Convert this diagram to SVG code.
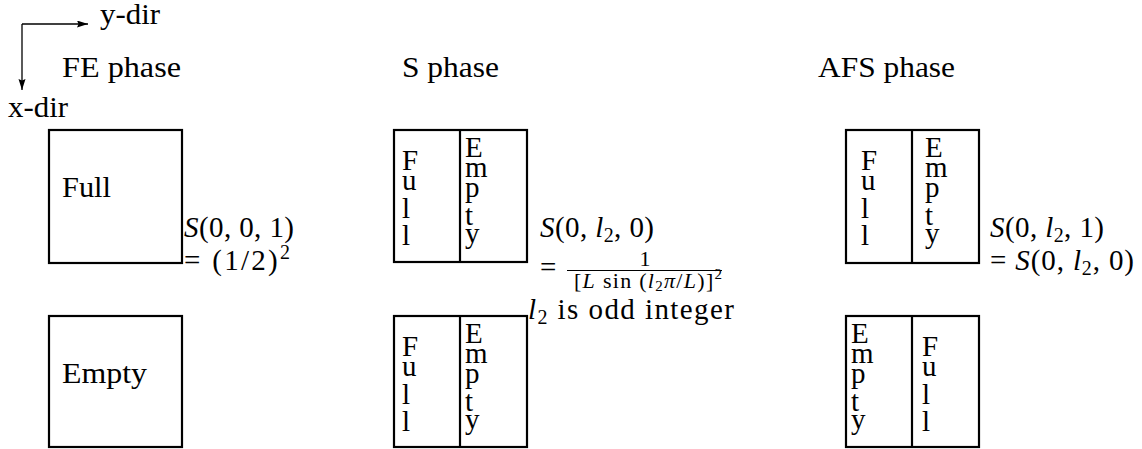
<svg xmlns="http://www.w3.org/2000/svg" width="1142" height="449" viewBox="0 0 1142 449" font-family="serif">
<defs>
<marker id="ah" markerUnits="userSpaceOnUse" markerWidth="12" markerHeight="8" refX="11" refY="3.5" orient="auto">
<path d="M0,0 L11,3.5 L0,7 L1.5,3.5 z" fill="#000"/>
</marker>
</defs>
<rect width="1142" height="449" fill="#fff"/>
<g id="connectors" fill="none" stroke="#000" stroke-width="1.3">
<path d="M22,24 H88" marker-end="url(#ah)"/>
<path d="M22,24 V90" marker-end="url(#ah)"/>
</g>
<g id="labels">
<text font-family="Liberation Serif" font-size="29" x="100" y="24" textLength="60" lengthAdjust="spacingAndGlyphs">y-dir</text>
<text font-family="Liberation Serif" font-size="29" x="8" y="117" textLength="60" lengthAdjust="spacingAndGlyphs">x-dir</text>
<text font-family="Liberation Serif" font-size="29" x="62" y="77" textLength="119" lengthAdjust="spacingAndGlyphs">FE phase</text>
<text font-family="Liberation Serif" font-size="29" x="402" y="77" textLength="97" lengthAdjust="spacingAndGlyphs">S phase</text>
<text font-family="Liberation Serif" font-size="29" x="818" y="77" textLength="137" lengthAdjust="spacingAndGlyphs">AFS phase</text>
</g>
<g id="fe-top">
<rect x="49" y="130" width="133" height="133" fill="none" stroke="#000" stroke-width="2.2"/>
<text font-family="Liberation Serif" font-size="29" x="62" y="197" textLength="49" lengthAdjust="spacingAndGlyphs">Full</text>
</g>
<g id="fe-bottom">
<rect x="49" y="316" width="133" height="131" fill="none" stroke="#000" stroke-width="2.2"/>
<text font-family="Liberation Serif" font-size="29" x="62" y="383" textLength="85" lengthAdjust="spacingAndGlyphs">Empty</text>
</g>
<g id="fe-formula">
<text font-family="Liberation Serif" font-size="29" x="184" y="237" textLength="110" lengthAdjust="spacing"><tspan font-style="italic">S</tspan>(0, 0, 1)</text>
<text font-family="Liberation Serif" font-size="29" x="184" y="270" textLength="106" lengthAdjust="spacing">= (1/2)<tspan font-size="20" dy="-11">2</tspan></text>
</g>
<g id="s-top">
<rect x="394" y="130" width="133" height="132" fill="none" stroke="#000" stroke-width="2.2"/>
<line x1="460" y1="130" x2="460" y2="262" stroke="#000" stroke-width="2.2"/>
<text font-family="Liberation Serif" font-size="29"><tspan x="402" y="170">F</tspan><tspan x="402" y="190">u</tspan><tspan x="402" y="218">l</tspan><tspan x="402" y="245">l</tspan></text>
<text font-family="Liberation Serif" font-size="29"><tspan x="465" y="157">E</tspan><tspan x="465" y="177">m</tspan><tspan x="465" y="197">p</tspan><tspan x="465" y="225">t</tspan><tspan x="465" y="243">y</tspan></text>
</g>
<g id="s-bottom">
<rect x="394" y="316" width="133" height="131" fill="none" stroke="#000" stroke-width="2.2"/>
<line x1="460" y1="316" x2="460" y2="447" stroke="#000" stroke-width="2.2"/>
<text font-family="Liberation Serif" font-size="29"><tspan x="402" y="356">F</tspan><tspan x="402" y="376">u</tspan><tspan x="402" y="404">l</tspan><tspan x="402" y="431">l</tspan></text>
<text font-family="Liberation Serif" font-size="29"><tspan x="465" y="343">E</tspan><tspan x="465" y="363">m</tspan><tspan x="465" y="383">p</tspan><tspan x="465" y="411">t</tspan><tspan x="465" y="429">y</tspan></text>
</g>
<g id="s-formula">
<text font-family="Liberation Serif" font-size="29" x="540" y="237" textLength="114" lengthAdjust="spacing"><tspan font-style="italic">S</tspan>(0, <tspan font-style="italic">l</tspan><tspan font-size="20" dy="5">2</tspan><tspan dy="-5">, 0)</tspan></text>
<text font-family="Liberation Serif" font-size="29" x="540" y="277">=</text>
<text font-family="Liberation Serif" font-size="22" x="645" y="266" text-anchor="middle">1</text>
<line x1="567" y1="270.5" x2="722" y2="270.5" stroke="#000" stroke-width="1.2"/>
<text font-family="Liberation Serif" font-size="22" x="574" y="288" textLength="148" lengthAdjust="spacing">[<tspan font-style="italic">L</tspan> sin (<tspan font-style="italic">l</tspan><tspan font-size="15" dy="3">2</tspan><tspan font-style="italic" dy="-3">π</tspan>/<tspan font-style="italic">L</tspan>)]<tspan font-size="15" dy="-9">2</tspan></text>
<text font-family="Liberation Serif" font-size="29" x="528" y="319" textLength="206" lengthAdjust="spacing"><tspan font-style="italic">l</tspan><tspan font-size="20" dy="5">2</tspan><tspan dy="-5"> is odd integer</tspan></text>
</g>
<g id="afs-top">
<rect x="846" y="130" width="133" height="133" fill="none" stroke="#000" stroke-width="2.2"/>
<line x1="912" y1="130" x2="912" y2="263" stroke="#000" stroke-width="2.2"/>
<text font-family="Liberation Serif" font-size="29"><tspan x="861" y="170">F</tspan><tspan x="861" y="190">u</tspan><tspan x="861" y="218">l</tspan><tspan x="861" y="245">l</tspan></text>
<text font-family="Liberation Serif" font-size="29"><tspan x="925" y="157">E</tspan><tspan x="925" y="177">m</tspan><tspan x="925" y="197">p</tspan><tspan x="925" y="225">t</tspan><tspan x="925" y="243">y</tspan></text>
</g>
<g id="afs-bottom">
<rect x="846" y="316" width="133" height="131" fill="none" stroke="#000" stroke-width="2.2"/>
<line x1="912" y1="316" x2="912" y2="447" stroke="#000" stroke-width="2.2"/>
<text font-family="Liberation Serif" font-size="29"><tspan x="851" y="343">E</tspan><tspan x="851" y="363">m</tspan><tspan x="851" y="383">p</tspan><tspan x="851" y="411">t</tspan><tspan x="851" y="429">y</tspan></text>
<text font-family="Liberation Serif" font-size="29"><tspan x="922" y="356">F</tspan><tspan x="922" y="376">u</tspan><tspan x="922" y="404">l</tspan><tspan x="922" y="431">l</tspan></text>
</g>
<g id="afs-formula">
<text font-family="Liberation Serif" font-size="29" x="990" y="237" textLength="114" lengthAdjust="spacing"><tspan font-style="italic">S</tspan>(0, <tspan font-style="italic">l</tspan><tspan font-size="20" dy="5">2</tspan><tspan dy="-5">, 1)</tspan></text>
<text font-family="Liberation Serif" font-size="29" x="990" y="270" textLength="144" lengthAdjust="spacing">= <tspan font-style="italic">S</tspan>(0, <tspan font-style="italic">l</tspan><tspan font-size="20" dy="5">2</tspan><tspan dy="-5">, 0)</tspan></text>
</g>
</svg>
